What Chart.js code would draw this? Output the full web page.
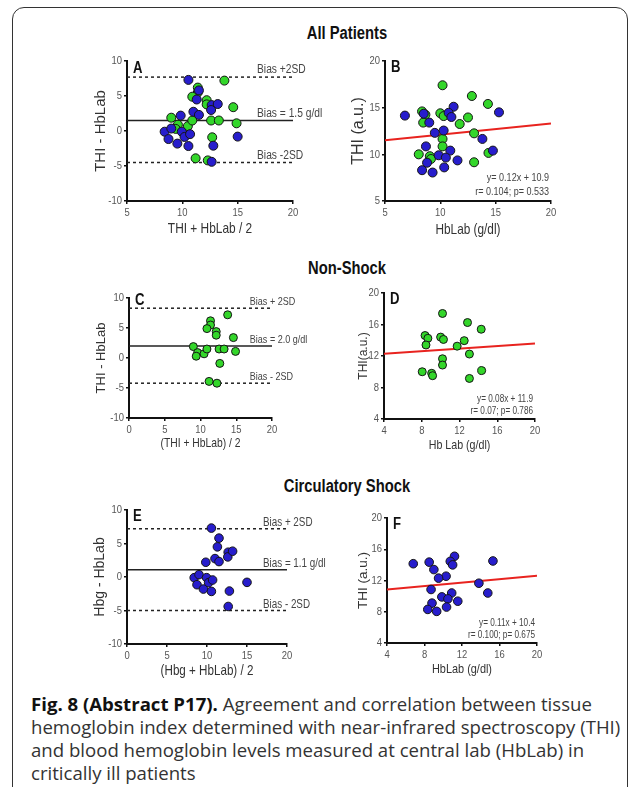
<!DOCTYPE html>
<html>
<head>
<meta charset="utf-8">
<script src="https://cdn.jsdelivr.net/npm/chart.js@4.4.1/dist/chart.umd.min.js"></script>
<style>
  html, body { margin: 0; padding: 0; background: #fff; }
  body { width: 637px; height: 787px; position: relative; overflow: hidden; }
  .frame { position: absolute; left: 12px; top: 7px; width: 614px; height: 830px; border: 1.5px solid #333; border-radius: 12px; }
  .ttl { position: absolute; left: 247px; width: 200px; text-align: center; line-height: 20px;
         font: bold 18px 'Liberation Sans', Arial, sans-serif; color: #111; transform: scaleX(0.82); }
  canvas { position: absolute; }
  .cap { position: absolute; left: 31px; top: 692px; font: 18.6px 'Open Sans', sans-serif; color: #333; line-height: 23px; white-space: nowrap; }
  .cap b { color: #111; }
</style>
</head>
<body>
<div class="frame"></div>
<div class="ttl" style="top:23px">All Patients</div>
<div class="ttl" style="top:258px">Non-Shock</div>
<div class="ttl" style="top:476px">Circulatory Shock</div>
<div class="cap"><b>Fig. 8 (Abstract P17).</b> Agreement and correlation between tissue<br>hemoglobin index determined with near-infrared spectroscopy (THI)<br>and blood hemoglobin levels measured at central lab (HbLab) in<br>critically ill patients</div>

<script>
// blue = circulatory shock, green = non-shock
// Bland-Altman: (THI + HbLab)/2 vs THI - HbLab
const blueMean = [10.55, 11.5, 11.3, 11.0, 11.5, 9.85, 12.65, 12.6, 13.2, 8.4, 9.0, 8.75, 9.95, 10.2, 10.7, 9.55, 10.55, 12.8, 12.65, 15.0];
const blueDiff = [7.3, 5.8, 4.5, 2.75, 2.3, 2.2, 3.7, 3.0, 3.85, -0.1, 0.35, -1.15, -0.1, -0.85, -0.45, -1.8, -2.15, -2.1, -4.4, -0.8];
const greenMean = [13.8, 11.4, 11.4, 10.9, 12.2, 12.2, 14.6, 9.0, 9.6, 9.4, 10.5, 10.9, 12.6, 13.3, 14.9, 12.7, 11.2, 12.3];
const greenDiff = [7.2, 6.2, 5.5, 4.9, 4.4, 3.8, 3.4, 1.9, 0.9, 0.3, 0.7, 1.5, 1.5, 1.5, 1.1, -0.9, -3.9, -4.2];

// correlation: HbLab (g/dl) vs THI (a.u.)
const blueLab = [6.8, 8.5, 9.0, 11.2, 10.75, 11.0, 10.3, 9.5, 15.3, 13.8, 8.7, 10.9, 9.85, 10.5, 8.8, 11.55, 8.35, 9.3, 10.35, 14.75];
const blueThi = [14.15, 14.35, 13.4, 15.1, 14.45, 14.0, 12.55, 12.3, 14.5, 11.65, 10.85, 10.4, 9.9, 9.65, 9.1, 9.35, 8.3, 8.05, 8.6, 10.4];
const greenLab = [10.2, 12.85, 14.3, 8.35, 8.65, 10.0, 10.3, 12.5, 11.75, 8.45, 13.05, 10.2, 10.2, 8.05, 9.05, 9.15, 14.35, 13.05];
const greenThi = [17.4, 16.25, 15.4, 14.6, 14.25, 14.4, 14.1, 13.95, 13.25, 13.4, 12.25, 11.65, 10.85, 10.0, 9.8, 9.5, 10.15, 9.15];

// bias +2SD, bias, bias -2SD
const biasAll = [7.7, 1.5, -4.5];
const biasNonShock = [8.3, 2.0, -4.2];
const biasShock = [7.2, 1.1, -5.0];
const biasTextAll = ['Bias +2SD', 'Bias = 1.5 g/dl', 'Bias -2SD'];
const biasTextNonShock = ['Bias + 2SD', 'Bias = 2.0 g/dl', 'Bias - 2SD'];
const biasTextShock = ['Bias + 2SD', 'Bias = 1.1 g/dl', 'Bias - 2SD'];

// regression lines, read at the ends of the x axis
const fitAllX = [5, 20], fitAllY = [11.5, 13.3];
const fitNonShockX = [4, 20], fitNonShockY = [12.3, 13.6];
const fitShockX = [4, 20], fitShockY = [10.85, 12.6];
const eqAll = ['y= 0.12x + 10.9', 'r= 0.104; p= 0.533'];
const eqNonShock = ['y= 0.08x + 11.9', 'r= 0.07; p= 0.786'];
const eqShock = ['y= 0.11x + 10.4', 'r= 0.100; p= 0.675'];

// tick labels
const tickDiff = [-10, -5, 0, 5, 10];
const tickMeanAll = [5, 10, 15, 20];
const tickMean = [0, 5, 10, 15, 20];
const tickFive = [5, 10, 15, 20];
const tickFour = [4, 8, 12, 16, 20];

const BLUE = '#271dcc';
const GREEN = '#33d62a';
const FONT = "'Liberation Sans', Arial, sans-serif";

const pts = (xs, ys) => xs.map((x, i) => ({ x: x, y: ys[i] }));

// the original uses a condensed face: squeeze horizontal text, leave rotated titles alone
function narrowText(ctx) {
  const fill = ctx.fillText.bind(ctx);
  ctx.fillText = function (text, x, y) {
    const m = ctx.getTransform();
    if (Math.abs(m.b) > 0.01) return fill(text, x, y);
    ctx.save();
    ctx.translate(x, y);
    ctx.scale(0.82, 1);
    fill(text, 0, 0);
    ctx.restore();
  };
}

// letters, bias labels and regression text
const decor = {
  id: 'decor',
  afterDraw(chart, args, o) {
    const { ctx, chartArea: a, scales } = chart;
    ctx.save();
    ctx.fillStyle = '#111';
    ctx.font = 'bold 16px ' + FONT;
    ctx.textBaseline = 'middle';
    ctx.textAlign = 'left';
    ctx.fillText(o.letter, a.left + 6, a.top + o.letterDy);
    ctx.textBaseline = 'alphabetic';
    ctx.fillStyle = '#444';
    if (o.biasText) {
      ctx.font = o.labelSize + 'px ' + FONT;
      o.biasText.forEach((t, i) => {
        ctx.fillText(t, scales.x.getPixelForValue(o.labelAt), scales.y.getPixelForValue(o.bias[i]) - o.labelGap);
      });
    }
    if (o.eq) {
      ctx.font = o.eqSize + 'px ' + FONT;
      ctx.textAlign = 'right';
      o.eq.forEach((t, i) => ctx.fillText(t, a.right - 2, a.bottom - o.eqGap[i]));
    }
    ctx.restore();
  }
};

function axis(min, max, ticks, title, titleSize, fit) {
  return {
    type: 'linear', min: min, max: max,
    afterBuildTicks: (s) => { s.ticks = ticks.map(v => ({ value: v })); },
    afterFit: fit,
    ticks: { color: '#555', font: { family: FONT, size: 11.5 }, padding: 2, autoSkip: false },
    grid: { drawOnChartArea: false, drawTicks: true, tickLength: 3, color: '#111', lineWidth: 1.5 },
    border: { display: true, color: '#111', width: 2 },
    title: { display: true, text: title, color: '#333', padding: 0, font: { family: FONT, size: titleSize } }
  };
}

function panel(p) {
  const yW = Math.round(p.yDist + 0.6 * p.yTitleSize);
  const xH = Math.round(p.xDist + 0.6 * p.xTitleSize);
  const padTop = 12;
  const [l, t, r, b] = p.area;
  const cv = document.createElement('canvas');
  cv.width = yW + (r - l) + p.padRight;
  cv.height = padTop + (b - t) + xH;
  cv.style.left = (l - yW) + 'px';
  cv.style.top = (t - padTop) + 'px';
  document.body.appendChild(cv);
  narrowText(cv.getContext('2d'));

  const datasets = p.series.map((s, i) => ({
    type: 'scatter', data: pts(s.x, s.y), order: i,
    backgroundColor: s.color, borderColor: '#151515', borderWidth: 1, pointRadius: p.r
  }));
  if (p.bias) {
    p.bias.forEach((v, i) => datasets.push({
      type: 'line', data: pts(p.xr, [v, v]), order: 5,
      borderColor: '#222', borderWidth: 1.5, borderDash: i === 1 ? [] : [3, 3], pointRadius: 0
    }));
  }
  if (p.fitY) {
    datasets.push({
      type: 'line', data: pts(p.fitX, p.fitY), order: 5,
      borderColor: '#e8231f', borderWidth: 2, pointRadius: 0
    });
  }

  new Chart(cv, {
    data: { datasets: datasets },
    options: {
      responsive: false, animation: false, devicePixelRatio: 1,
      layout: { padding: { top: padTop, right: p.padRight, left: 0, bottom: 0 } },
      scales: {
        x: axis(p.xr[0], p.xr[1], p.xt, p.xTitle, p.xTitleSize, (s) => { s.height = xH; }),
        y: axis(p.yr[0], p.yr[1], p.yt, p.yTitle, p.yTitleSize, (s) => { s.width = yW; })
      },
      plugins: { legend: { display: false }, tooltip: { enabled: false }, decor: p }
    },
    plugins: [decor]
  });
}

panel({
  area: [127, 61, 293, 201], xr: [5, 20], xt: tickMeanAll, yr: [-10, 10], yt: tickDiff,
  yTitle: 'THI - HbLab', yTitleSize: 15, yDist: 26, xTitle: 'THI + HbLab / 2', xTitleSize: 14.5, xDist: 28,
  letter: 'A', letterDy: 8, padRight: 50, r: 4.5,
  series: [{ x: blueMean, y: blueDiff, color: BLUE }, { x: greenMean, y: greenDiff, color: GREEN }],
  bias: biasAll, biasText: biasTextAll, labelAt: 16.75, labelSize: 12.5, labelGap: 4
});
panel({
  area: [385, 61, 551, 201], xr: [5, 20], xt: tickFive, yr: [5, 20], yt: tickFive,
  yTitle: 'THI (a.u.)', yTitleSize: 16, yDist: 26.5, xTitle: 'HbLab (g/dl)', xTitleSize: 14.4, xDist: 29,
  letter: 'B', letterDy: 7, padRight: 12, r: 4.5,
  series: [{ x: blueLab, y: blueThi, color: BLUE }, { x: greenLab, y: greenThi, color: GREEN }],
  fitX: fitAllX, fitY: fitAllY, eq: eqAll, eqSize: 11, eqGap: [20, 6]
});
panel({
  area: [129, 298, 272, 418], xr: [0, 20], xt: tickMean, yr: [-10, 10], yt: tickDiff,
  yTitle: 'THI - HbLab', yTitleSize: 13, yDist: 27, xTitle: '(THI + HbLab) / 2', xTitleSize: 12.6, xDist: 25.5,
  letter: 'C', letterDy: 3, padRight: 45, r: 4,
  series: [{ x: greenMean, y: greenDiff, color: GREEN }],
  bias: biasNonShock, biasText: biasTextNonShock, labelAt: 16.9, labelSize: 11, labelGap: 3
});
panel({
  area: [384, 293, 535, 419], xr: [4, 20], xt: tickFour, yr: [4, 20], yt: tickFour,
  yTitle: 'THI(a.u.)', yTitleSize: 12, yDist: 21, xTitle: 'Hb Lab (g/dl)', xTitleSize: 13, xDist: 26.5,
  letter: 'D', letterDy: 7, padRight: 12, r: 4,
  series: [{ x: greenLab, y: greenThi, color: GREEN }],
  fitX: fitNonShockX, fitY: fitNonShockY, eq: eqNonShock, eqSize: 10, eqGap: [17, 5.5]
});
panel({
  area: [127, 510, 287, 644], xr: [0, 20], xt: tickMean, yr: [-10, 10], yt: tickDiff,
  yTitle: 'Hbg - HbLab', yTitleSize: 14, yDist: 26.3, xTitle: '(Hbg + HbLab) / 2', xTitleSize: 14.2, xDist: 27,
  letter: 'E', letterDy: 7, padRight: 50, r: 4.3,
  series: [{ x: blueMean, y: blueDiff, color: BLUE }],
  bias: biasShock, biasText: biasTextShock, labelAt: 17, labelSize: 12, labelGap: 3
});
panel({
  area: [387, 518, 537, 643], xr: [4, 20], xt: tickFour, yr: [4, 20], yt: tickFour,
  yTitle: 'THI (a.u.)', yTitleSize: 13.5, yDist: 24, xTitle: 'HbLab (g/dl)', xTitleSize: 13.3, xDist: 25.7,
  letter: 'F', letterDy: 7, padRight: 12, r: 4.3,
  series: [{ x: blueLab, y: blueThi, color: BLUE }],
  fitX: fitShockX, fitY: fitShockY, eq: eqShock, eqSize: 10, eqGap: [17.5, 5]
});
</script>
</body>
</html>
